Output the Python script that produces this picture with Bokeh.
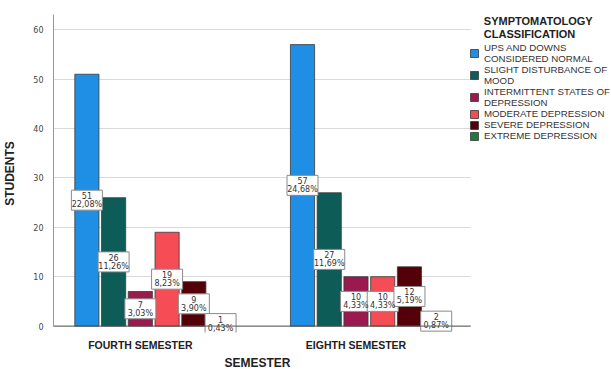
from bokeh.plotting import figure
from bokeh.models import (ColumnDataSource, Range1d, FixedTicker, Legend, LegendItem, Span,
                          BoxAnnotation, Label, Title)
from bokeh.core.properties import value
from bokeh.embed import file_html
from bokeh.resources import INLINE

semesters = ["FOURTH SEMESTER", "EIGHTH SEMESTER"]
x_title = "SEMESTER"
y_title = "STUDENTS"
legend_title = "SYMPTOMATOLOGY\nCLASSIFICATION"
classes = ["UPS AND DOWNS\nCONSIDERED NORMAL", "SLIGHT DISTURBANCE OF\nMOOD",
           "INTERMITTENT STATES OF\nDEPRESSION", "MODERATE DEPRESSION",
           "SEVERE DEPRESSION", "EXTREME DEPRESSION"]
fourth_counts = [51, 26, 7, 19, 9, 1]
eighth_counts = [57, 27, 10, 10, 12, 2]
fourth_pct = ["22,08%", "11,26%", "3,03%", "8,23%", "3,90%", "0,43%"]
eighth_pct = ["24,68%", "11,69%", "4,33%", "4,33%", "5,19%", "0,87%"]
colors = ["#1e8fe4", "#0e5c58", "#9a1a50", "#f64c55", "#540009", "#1e7b3b"]
y_ticks = [0, 10, 20, 30, 40, 50, 60]

SLOT = 0.124
BAR_W = 0.112
Y_TOP = 63.1
X_START = -0.4028
PLOT_END = 1.532      # right end of the plotting area (legend area beyond)
X_END = 2.185

xs, tops, mids, cnt_txt, pct_txt, fills = [], [], [], [], [], []
for g, (counts, pcts) in enumerate([(fourth_counts, fourth_pct), (eighth_counts, eighth_pct)]):
    for k in range(len(classes)):
        xs.append(g + (k - 2) * SLOT)
        tops.append(counts[k])
        mids.append(counts[k] / 2)
        cnt_txt.append(str(counts[k]))
        pct_txt.append(pcts[k])
        fills.append(colors[k])
src = ColumnDataSource(dict(x=xs, top=tops, mid=mids, cnt=cnt_txt, pct=pct_txt, fill=fills))

p = figure(width=611, height=369, output_backend="svg", toolbar_location=None,
           x_range=Range1d(X_START, X_END), y_range=Range1d(-1.3, Y_TOP),
           min_border_left=52, min_border_right=0, min_border_top=14, min_border_bottom=35)
p.outline_line_color = None
p.background_fill_color = "white"

p.xgrid.grid_line_color = None
p.ygrid.grid_line_color = "#d9d9d9"
p.ygrid.grid_line_width = 1

p.add_layout(Span(location=0, dimension="width", line_color="#555555", line_width=1))

r = p.vbar(x="x", top="top", width=BAR_W, source=src, fill_color="fill",
           line_color="#3a3a3a", line_width=0.8)

# value labels: white box with two lines
p.rect(x="x", y="mid", width=31, height=20, width_units="screen", height_units="screen",
       source=src, fill_color="white", line_color="#8a8a8a", line_width=1)
p.text(x="x", y="mid", text="cnt", source=src, y_offset=-4.5, text_align="center",
       text_baseline="middle", text_font=value("DejaVu Sans"), text_font_size="8px",
       text_color="#333333")
p.text(x="x", y="mid", text="pct", source=src, y_offset=4.5, text_align="center",
       text_baseline="middle", text_font=value("DejaVu Sans"), text_font_size="8px",
       text_color="#333333")

# blank legend area to the right of the plotting area
p.add_layout(BoxAnnotation(left=PLOT_END, fill_color="white", fill_alpha=1,
                           line_color=None, level="annotation"))

# axes
p.xaxis.ticker = FixedTicker(ticks=list(range(len(semesters))))
p.xaxis.major_label_overrides = {i: s for i, s in enumerate(semesters)}
p.xaxis.major_label_text_font = "Liberation Sans"
p.xaxis.major_label_text_font_style = "bold"
p.xaxis.major_label_text_font_size = "10.5px"
p.xaxis.major_label_text_color = "#222222"
p.xaxis.major_label_standoff = 0
p.xaxis.major_tick_line_color = None
p.xaxis.minor_tick_line_color = None
p.xaxis.axis_line_color = None

p.add_layout(Title(text=x_title, align="left", offset=171, standoff=0,
                   text_font="Liberation Sans", text_font_style="bold",
                   text_font_size="12px", text_color="#222222"), "below")

p.yaxis.ticker = FixedTicker(ticks=y_ticks)
p.yaxis.bounds = (0, Y_TOP)
p.yaxis.major_label_text_font = "DejaVu Sans"
p.yaxis.major_label_text_font_size = "8px"
p.yaxis.major_label_text_color = "#444444"
p.yaxis.major_label_standoff = 4
p.yaxis.major_tick_line_color = None
p.yaxis.minor_tick_line_color = None
p.yaxis.axis_line_color = "#999999"
p.yaxis.axis_label = y_title
p.yaxis.axis_label_text_font = "Liberation Sans"
p.yaxis.axis_label_text_font_style = "bold"
p.yaxis.axis_label_text_font_size = "12px"
p.yaxis.axis_label_text_color = "#222222"
p.yaxis.axis_label_standoff = 13

# legend title
p.add_layout(Label(x=1.593, y=Y_TOP, text=legend_title, text_align="left",
                   text_baseline="top", text_font="Liberation Sans", text_font_style="bold",
                   text_font_size="11px", text_color="#222222", text_line_height=1.1))

legend = Legend(items=[LegendItem(label=c, renderers=[r], index=i) for i, c in enumerate(classes)],
                location=(416, 191),
                label_text_font="Liberation Sans", label_text_font_size="9.7px",
                label_text_color="#333333", label_standoff=5, label_height=10,
                label_text_line_height=1.1,
                glyph_width=10, glyph_height=10, spacing=0, padding=0, margin=0,
                border_line_color=None, background_fill_alpha=0)
p.add_layout(legend, "center")

open("out.html", "w").write(file_html(p, INLINE))
